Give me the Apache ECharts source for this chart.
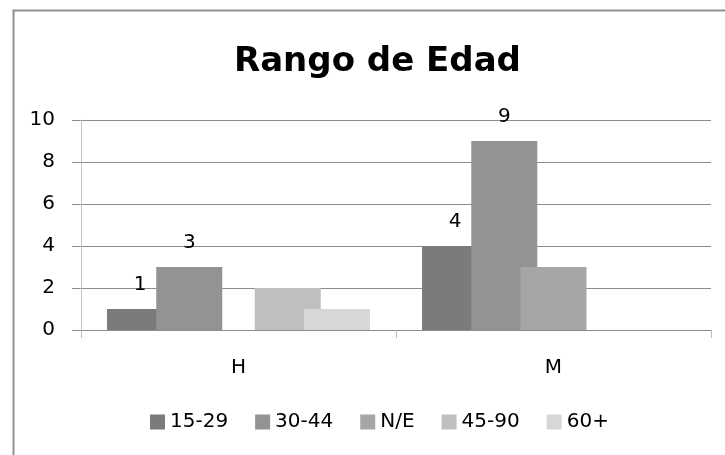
<!DOCTYPE html>
<html>
<head>
<meta charset="utf-8">
<script src="https://cdn.jsdelivr.net/npm/echarts@6/dist/echarts.min.js"></script>
<style>html,body{margin:0;padding:0;background:#fff;}#c{width:725px;height:455px;}</style>
</head>
<body>
<div id="c"></div>
<script>
const titleText = 'Rango de Edad';
const categories = ['H', 'M'];
const seriesNames = ['15-29', '30-44', 'N/E', '45-90', '60+'];
const v1529 = [1, 4];
const v3044 = [3, 9];
const vNE = [0, 3];
const v4590 = [2, 0];
const v60 = [1, 0];
const yTicks = [0, 2, 4, 6, 8, 10];

const seriesValues = [v1529, v3044, vNE, v4590, v60];
const colors = ['#7b7b7b', '#939393', '#a6a6a6', '#bfbfbf', '#d7d7d7'];
const labeled = [true, true, false, false, false];
const FONT = 'DejaVu Sans';

const chart = echarts.init(document.getElementById('c'));
chart.setOption({
  animation: false,
  backgroundColor: '#fff',
  textStyle: { fontFamily: FONT },
  title: {
    text: titleText, left: 229, top: 40,
    textStyle: { fontFamily: FONT, fontWeight: 'bold', fontSize: 34, color: '#000' }
  },
  graphic: [{
    type: 'rect', left: 11, top: 8, z: -1,
    shape: { width: 800, height: 600 },
    style: { fill: 'none', stroke: '#8f8f8f', lineWidth: 2 }
  }],
  legend: {
    data: seriesNames, bottom: 18, left: 145,
    icon: 'rect', itemWidth: 15, itemHeight: 15, itemGap: 27,
    textStyle: { fontFamily: FONT, fontSize: 20, color: '#000' }
  },
  grid: { left: 81, right: 14, top: 120, bottom: 125, containLabel: false },
  xAxis: {
    type: 'category', data: categories,
    axisLine: { lineStyle: { color: '#8c8c8c', width: 1 } },
    axisTick: { show: true, length: 8, lineStyle: { color: '#bdbdbd' } },
    axisLabel: { fontSize: 20, color: '#000', margin: 28, fontFamily: FONT }
  },
  yAxis: {
    type: 'value', min: 0, max: 10, interval: 2,
    axisLine: { show: true, lineStyle: { color: '#c4c4c4' } },
    axisTick: { show: true, length: 9, lineStyle: { color: '#8c8c8c' } },
    splitLine: { lineStyle: { color: '#8c8c8c' } },
    axisLabel: { fontSize: 20, color: '#000', margin: 26, fontFamily: FONT,
      formatter: v => yTicks.includes(v) ? String(v) : '' }
  },
  series: seriesNames.map((n, i) => ({
    name: n, type: 'bar', data: seriesValues[i],
    barWidth: 66, barGap: '-25.4%',
    itemStyle: { color: colors[i] },
    label: { show: labeled[i], position: 'top', distance: 14, fontSize: 20, color: '#000', fontFamily: FONT }
  }))
});
</script>
</body>
</html>
